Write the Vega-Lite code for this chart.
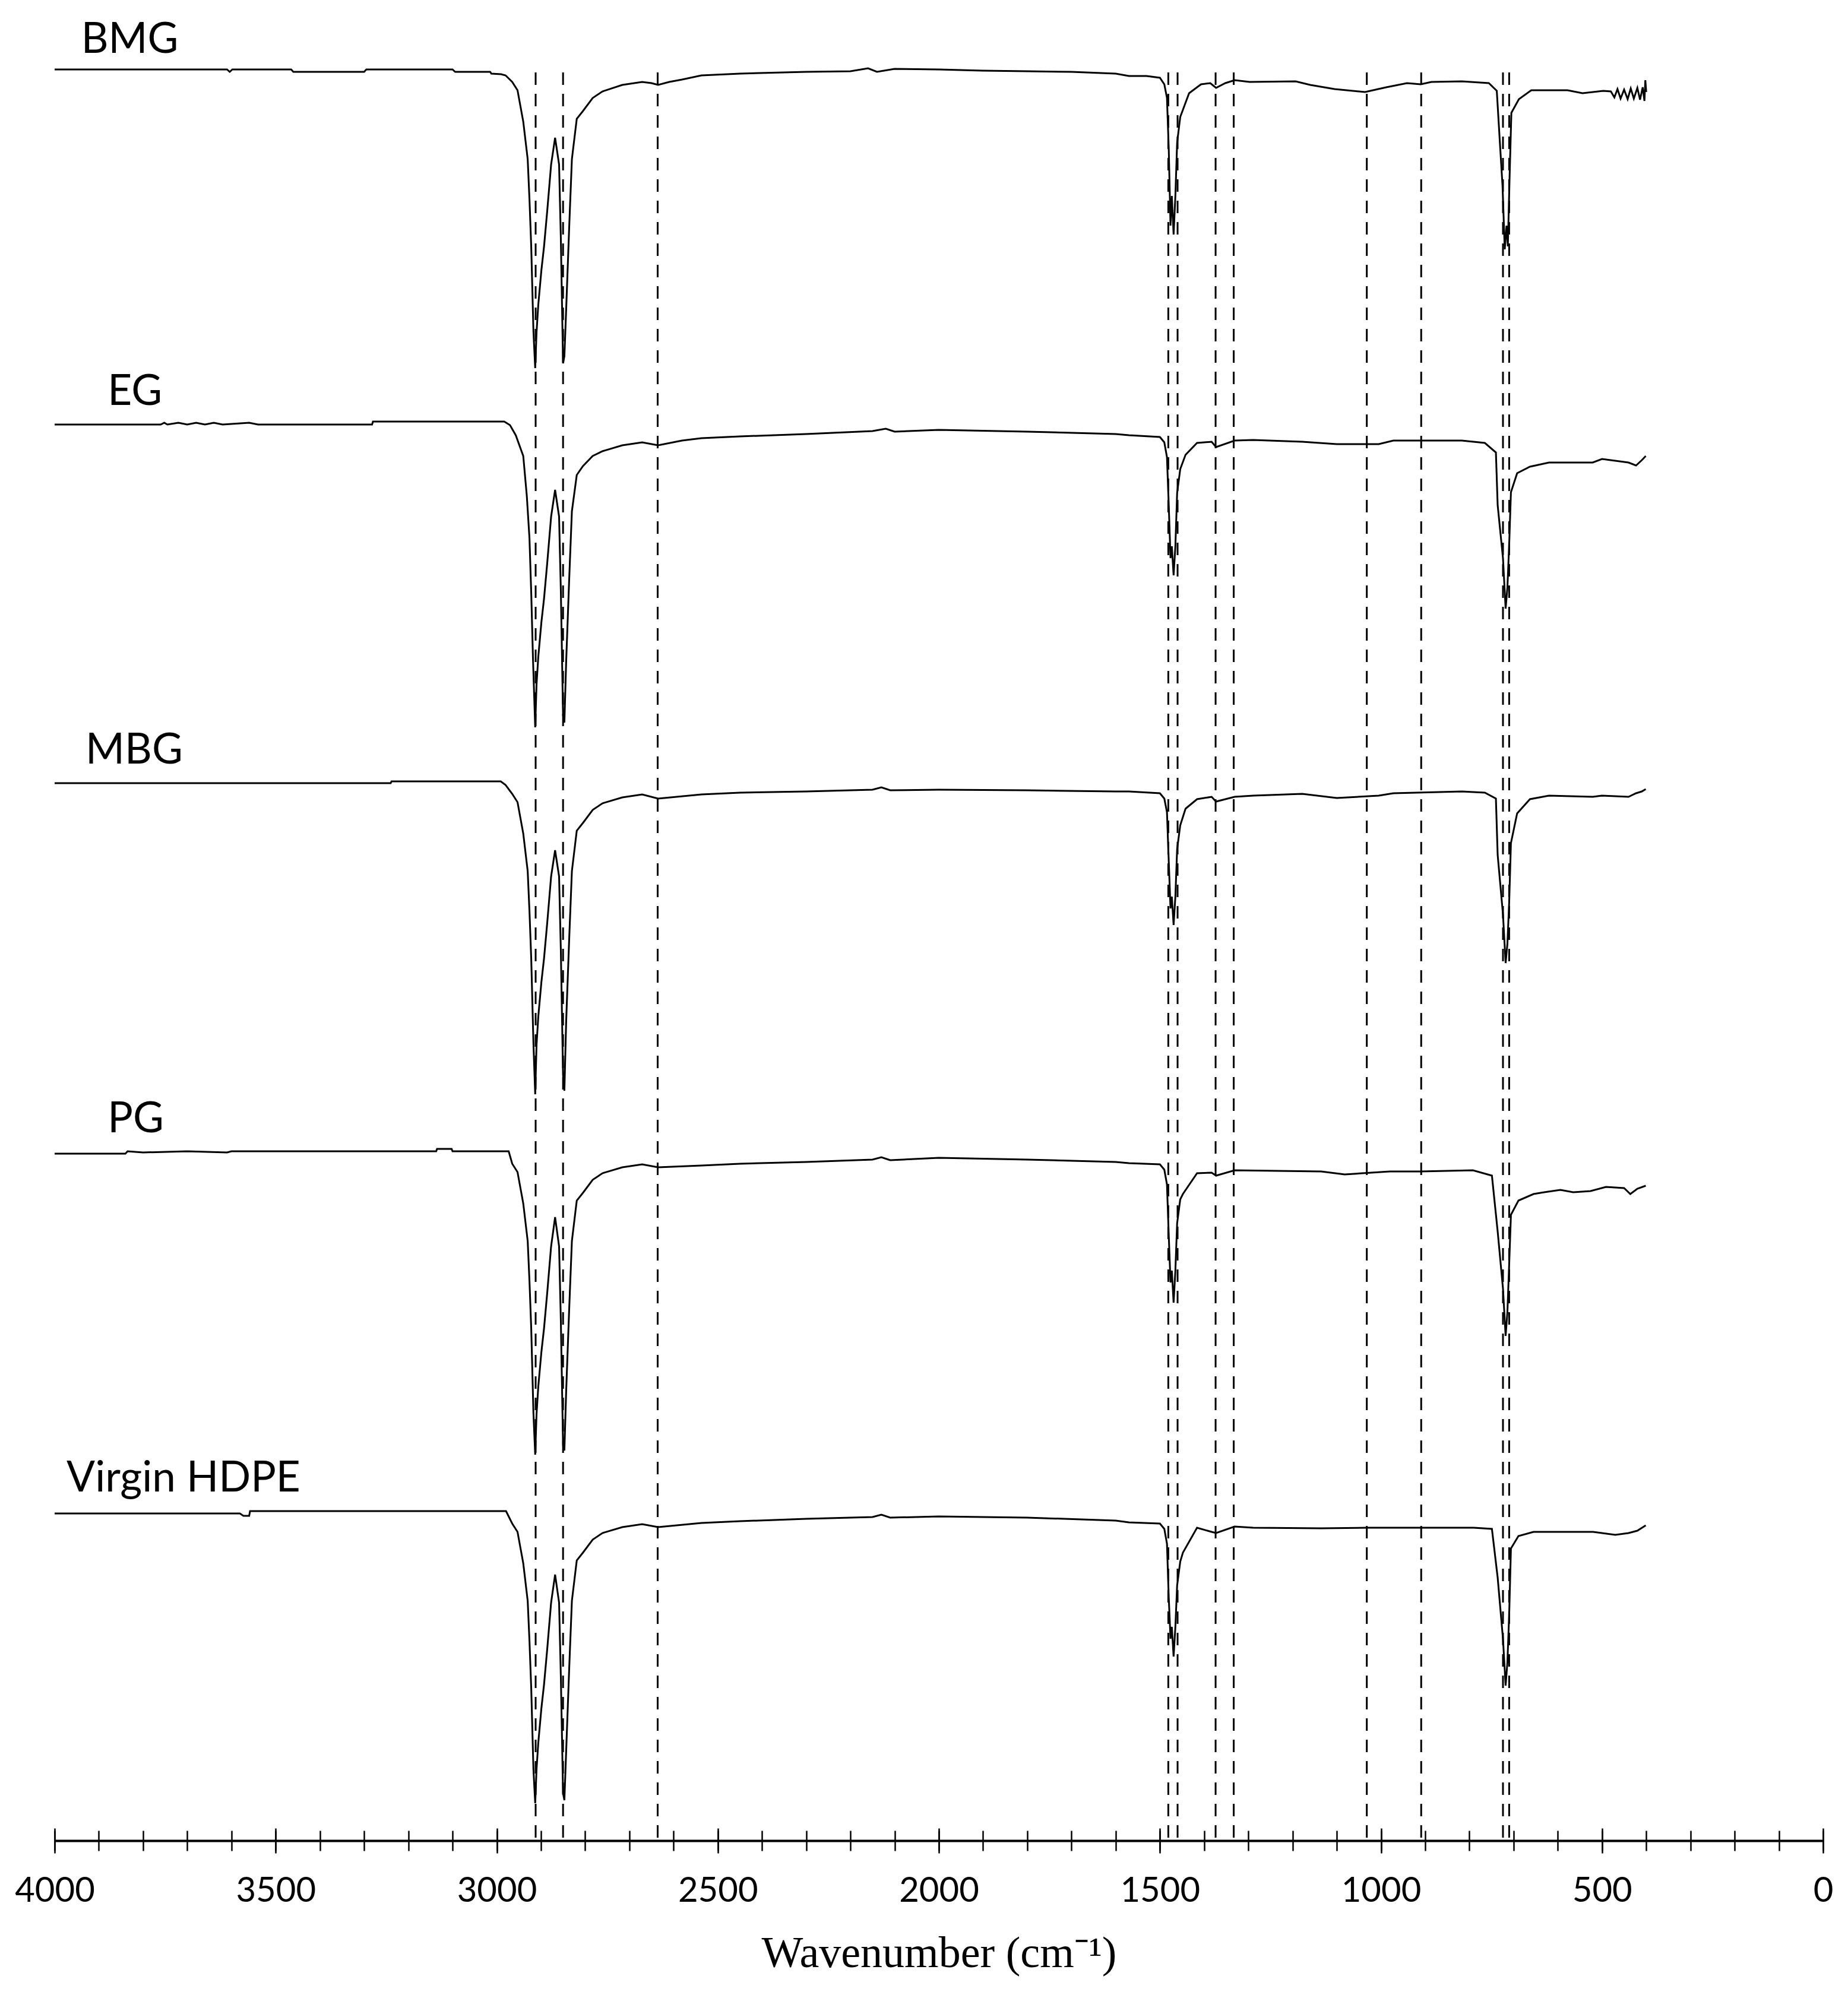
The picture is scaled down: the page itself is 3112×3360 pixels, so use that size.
{
"$schema":"https://vega.github.io/schema/vega-lite/v6.json",
"width":2978,"height":3100,
"autosize":{"type":"none"},
"padding":{"left":92,"right":42,"top":0,"bottom":260},
"background":"white",
"config":{"view":{"stroke":null}},
"datasets":{
"peaks":[{"wn":2912},{"wn":2850},{"wn":2636},{"wn":1481},{"wn":1460},{"wn":1374},{"wn":1333},{"wn":1032},{"wn":909},{"wn":724},{"wn":710}],
"labels":[{"label":"BMG","wn":3940,"t":301.1},{"label":"EG","wn":3880,"t":241.8},{"label":"MBG","wn":3930,"t":181.4},{"label":"PG","wn":3880,"t":119.3},{"label":"Virgin HDPE","wn":3973,"t":58.8}],
"spectra":[
{"s":"BMG","wn":4000,"t":298.3},{"s":"BMG","wn":3800,"t":298.3},{"s":"BMG","wn":3610,"t":298.3},{"s":"BMG","wn":3604,"t":297.9},{"s":"BMG","wn":3598,"t":298.3},{"s":"BMG","wn":3465,"t":298.3},{"s":"BMG","wn":3460,"t":297.9},{"s":"BMG","wn":3300,"t":297.9},{"s":"BMG","wn":3295,"t":298.3},{"s":"BMG","wn":3100,"t":298.3},{"s":"BMG","wn":3094,"t":297.9},{"s":"BMG","wn":3015,"t":297.9},{"s":"BMG","wn":3012,"t":297.6},{"s":"BMG","wn":2990,"t":297.5},{"s":"BMG","wn":2980,"t":297.3},{"s":"BMG","wn":2965,"t":296.2},{"s":"BMG","wn":2953,"t":294.8},{"s":"BMG","wn":2940,"t":289.5},{"s":"BMG","wn":2930,"t":283.2},{"s":"BMG","wn":2926,"t":276.5},{"s":"BMG","wn":2922,"t":268.5},{"s":"BMG","wn":2917,"t":254.2},{"s":"BMG","wn":2913,"t":248.0},{"s":"BMG","wn":2910,"t":254.0},{"s":"BMG","wn":2906,"t":258.7},{"s":"BMG","wn":2899,"t":264.5},{"s":"BMG","wn":2893,"t":268.5},{"s":"BMG","wn":2886,"t":274.3},{"s":"BMG","wn":2877,"t":282.3},{"s":"BMG","wn":2868,"t":286.8},{"s":"BMG","wn":2859,"t":282.3},{"s":"BMG","wn":2855,"t":269.8},{"s":"BMG","wn":2850,"t":248.8},{"s":"BMG","wn":2847,"t":250.0},{"s":"BMG","wn":2843,"t":257.8},{"s":"BMG","wn":2836,"t":272.0},{"s":"BMG","wn":2830,"t":283.2},{"s":"BMG","wn":2819,"t":290.0},{"s":"BMG","wn":2805,"t":291.3},{"s":"BMG","wn":2783,"t":293.5},{"s":"BMG","wn":2761,"t":294.6},{"s":"BMG","wn":2716,"t":295.7},{"s":"BMG","wn":2671,"t":296.2},{"s":"BMG","wn":2650,"t":296.0},{"s":"BMG","wn":2635,"t":295.7},{"s":"BMG","wn":2610,"t":296.2},{"s":"BMG","wn":2581,"t":296.6},{"s":"BMG","wn":2537,"t":297.3},{"s":"BMG","wn":2450,"t":297.6},{"s":"BMG","wn":2300,"t":297.9},{"s":"BMG","wn":2200,"t":298.0},{"s":"BMG","wn":2160,"t":298.5},{"s":"BMG","wn":2140,"t":297.9},{"s":"BMG","wn":2100,"t":298.4},{"s":"BMG","wn":2000,"t":298.3},{"s":"BMG","wn":1900,"t":298.1},{"s":"BMG","wn":1800,"t":298.0},{"s":"BMG","wn":1700,"t":297.9},{"s":"BMG","wn":1600,"t":297.6},{"s":"BMG","wn":1570,"t":297.2},{"s":"BMG","wn":1530,"t":297.2},{"s":"BMG","wn":1500,"t":296.9},{"s":"BMG","wn":1490,"t":295.8},{"s":"BMG","wn":1484,"t":293.5},{"s":"BMG","wn":1480,"t":285.0},{"s":"BMG","wn":1476,"t":272.0},{"s":"BMG","wn":1473,"t":277.0},{"s":"BMG","wn":1469,"t":270.5},{"s":"BMG","wn":1465,"t":277.0},{"s":"BMG","wn":1461,"t":286.0},{"s":"BMG","wn":1454,"t":290.3},{"s":"BMG","wn":1434,"t":294.3},{"s":"BMG","wn":1407,"t":295.8},{"s":"BMG","wn":1386,"t":296.0},{"s":"BMG","wn":1373,"t":295.2},{"s":"BMG","wn":1352,"t":296.0},{"s":"BMG","wn":1331,"t":296.5},{"s":"BMG","wn":1297,"t":296.2},{"s":"BMG","wn":1193,"t":296.3},{"s":"BMG","wn":1160,"t":295.7},{"s":"BMG","wn":1105,"t":295.0},{"s":"BMG","wn":1036,"t":294.5},{"s":"BMG","wn":988,"t":295.3},{"s":"BMG","wn":941,"t":296.0},{"s":"BMG","wn":910,"t":295.8},{"s":"BMG","wn":886,"t":296.2},{"s":"BMG","wn":817,"t":296.3},{"s":"BMG","wn":756,"t":296.0},{"s":"BMG","wn":738,"t":294.7},{"s":"BMG","wn":731,"t":286.0},{"s":"BMG","wn":725,"t":278.7},{"s":"BMG","wn":720,"t":268.0},{"s":"BMG","wn":716,"t":272.0},{"s":"BMG","wn":713,"t":268.5},{"s":"BMG","wn":709,"t":280.3},{"s":"BMG","wn":705,"t":291.0},{"s":"BMG","wn":688,"t":293.3},{"s":"BMG","wn":660,"t":294.8},{"s":"BMG","wn":578,"t":294.8},{"s":"BMG","wn":544,"t":294.3},{"s":"BMG","wn":497,"t":294.7},{"s":"BMG","wn":480,"t":294.6},{"s":"BMG","wn":472,"t":293.6},{"s":"BMG","wn":465,"t":295.0},{"s":"BMG","wn":458,"t":293.4},{"s":"BMG","wn":450,"t":294.9},{"s":"BMG","wn":442,"t":293.3},{"s":"BMG","wn":435,"t":295.1},{"s":"BMG","wn":428,"t":293.4},{"s":"BMG","wn":420,"t":295.2},{"s":"BMG","wn":414,"t":293.2},{"s":"BMG","wn":408,"t":295.3},{"s":"BMG","wn":404,"t":293.0},{"s":"BMG","wn":402,"t":296.5},{"s":"BMG","wn":400,"t":294.5},
{"s":"EG","wn":4000,"t":238.5},{"s":"EG","wn":3760,"t":238.5},{"s":"EG","wn":3752,"t":238.8},{"s":"EG","wn":3745,"t":238.5},{"s":"EG","wn":3720,"t":238.8},{"s":"EG","wn":3700,"t":238.5},{"s":"EG","wn":3680,"t":238.8},{"s":"EG","wn":3660,"t":238.5},{"s":"EG","wn":3640,"t":238.8},{"s":"EG","wn":3620,"t":238.5},{"s":"EG","wn":3560,"t":238.8},{"s":"EG","wn":3540,"t":238.5},{"s":"EG","wn":3282,"t":238.5},{"s":"EG","wn":3280,"t":239.0},{"s":"EG","wn":2983,"t":239.0},{"s":"EG","wn":2970,"t":238.4},{"s":"EG","wn":2957,"t":236.7},{"s":"EG","wn":2940,"t":233.2},{"s":"EG","wn":2932,"t":226.5},{"s":"EG","wn":2926,"t":219.4},{"s":"EG","wn":2922,"t":210.2},{"s":"EG","wn":2918,"t":199.0},{"s":"EG","wn":2913,"t":187.5},{"s":"EG","wn":2910,"t":194.7},{"s":"EG","wn":2906,"t":199.4},{"s":"EG","wn":2899,"t":205.2},{"s":"EG","wn":2893,"t":209.2},{"s":"EG","wn":2886,"t":215.0},{"s":"EG","wn":2877,"t":223.0},{"s":"EG","wn":2868,"t":227.5},{"s":"EG","wn":2859,"t":223.0},{"s":"EG","wn":2855,"t":210.5},{"s":"EG","wn":2850,"t":189.5},{"s":"EG","wn":2847,"t":188.3},{"s":"EG","wn":2843,"t":198.5},{"s":"EG","wn":2836,"t":212.7},{"s":"EG","wn":2830,"t":223.9},{"s":"EG","wn":2819,"t":230.0},{"s":"EG","wn":2805,"t":231.5},{"s":"EG","wn":2783,"t":233.2},{"s":"EG","wn":2761,"t":234.0},{"s":"EG","wn":2716,"t":235.0},{"s":"EG","wn":2671,"t":235.5},{"s":"EG","wn":2635,"t":235.0},{"s":"EG","wn":2581,"t":235.8},{"s":"EG","wn":2537,"t":236.2},{"s":"EG","wn":2450,"t":236.5},{"s":"EG","wn":2300,"t":236.9},{"s":"EG","wn":2150,"t":237.4},{"s":"EG","wn":2120,"t":237.8},{"s":"EG","wn":2100,"t":237.3},{"s":"EG","wn":2000,"t":237.6},{"s":"EG","wn":1800,"t":237.3},{"s":"EG","wn":1600,"t":236.9},{"s":"EG","wn":1570,"t":236.7},{"s":"EG","wn":1500,"t":236.4},{"s":"EG","wn":1490,"t":235.5},{"s":"EG","wn":1484,"t":233.0},{"s":"EG","wn":1480,"t":225.0},{"s":"EG","wn":1476,"t":216.0},{"s":"EG","wn":1473,"t":218.0},{"s":"EG","wn":1469,"t":213.1},{"s":"EG","wn":1465,"t":218.0},{"s":"EG","wn":1461,"t":227.0},{"s":"EG","wn":1454,"t":231.0},{"s":"EG","wn":1442,"t":233.4},{"s":"EG","wn":1416,"t":235.4},{"s":"EG","wn":1383,"t":235.6},{"s":"EG","wn":1373,"t":234.7},{"s":"EG","wn":1331,"t":235.8},{"s":"EG","wn":1289,"t":235.9},{"s":"EG","wn":1178,"t":235.6},{"s":"EG","wn":1100,"t":235.2},{"s":"EG","wn":1005,"t":235.2},{"s":"EG","wn":972,"t":235.8},{"s":"EG","wn":817,"t":235.8},{"s":"EG","wn":765,"t":235.4},{"s":"EG","wn":740,"t":233.8},{"s":"EG","wn":736,"t":224.9},{"s":"EG","wn":724,"t":216.0},{"s":"EG","wn":718,"t":207.5},{"s":"EG","wn":714,"t":211.0},{"s":"EG","wn":710,"t":218.2},{"s":"EG","wn":706,"t":227.1},{"s":"EG","wn":692,"t":230.3},{"s":"EG","wn":663,"t":231.4},{"s":"EG","wn":620,"t":232.1},{"s":"EG","wn":521,"t":232.1},{"s":"EG","wn":500,"t":232.7},{"s":"EG","wn":440,"t":232.1},{"s":"EG","wn":423,"t":231.6},{"s":"EG","wn":410,"t":232.5},{"s":"EG","wn":401,"t":233.2},
{"s":"MBG","wn":4000,"t":178.1},{"s":"MBG","wn":3240,"t":178.1},{"s":"MBG","wn":3238,"t":178.4},{"s":"MBG","wn":2991,"t":178.4},{"s":"MBG","wn":2980,"t":177.8},{"s":"MBG","wn":2965,"t":176.3},{"s":"MBG","wn":2953,"t":174.9},{"s":"MBG","wn":2940,"t":169.6},{"s":"MBG","wn":2930,"t":163.3},{"s":"MBG","wn":2926,"t":156.6},{"s":"MBG","wn":2922,"t":148.6},{"s":"MBG","wn":2917,"t":134.3},{"s":"MBG","wn":2913,"t":125.7},{"s":"MBG","wn":2910,"t":134.0},{"s":"MBG","wn":2906,"t":138.8},{"s":"MBG","wn":2899,"t":144.6},{"s":"MBG","wn":2893,"t":148.6},{"s":"MBG","wn":2886,"t":154.4},{"s":"MBG","wn":2877,"t":162.4},{"s":"MBG","wn":2868,"t":166.8},{"s":"MBG","wn":2859,"t":162.4},{"s":"MBG","wn":2855,"t":149.9},{"s":"MBG","wn":2850,"t":128.9},{"s":"MBG","wn":2847,"t":126.3},{"s":"MBG","wn":2843,"t":137.9},{"s":"MBG","wn":2836,"t":152.1},{"s":"MBG","wn":2830,"t":163.3},{"s":"MBG","wn":2819,"t":170.1},{"s":"MBG","wn":2805,"t":171.4},{"s":"MBG","wn":2783,"t":173.6},{"s":"MBG","wn":2761,"t":174.7},{"s":"MBG","wn":2716,"t":175.7},{"s":"MBG","wn":2671,"t":176.2},{"s":"MBG","wn":2635,"t":175.5},{"s":"MBG","wn":2537,"t":176.2},{"s":"MBG","wn":2450,"t":176.5},{"s":"MBG","wn":2300,"t":176.7},{"s":"MBG","wn":2150,"t":177.0},{"s":"MBG","wn":2130,"t":177.4},{"s":"MBG","wn":2110,"t":176.9},{"s":"MBG","wn":2000,"t":177.0},{"s":"MBG","wn":1800,"t":176.9},{"s":"MBG","wn":1600,"t":176.7},{"s":"MBG","wn":1570,"t":176.7},{"s":"MBG","wn":1500,"t":176.4},{"s":"MBG","wn":1490,"t":175.5},{"s":"MBG","wn":1484,"t":173.2},{"s":"MBG","wn":1480,"t":165.0},{"s":"MBG","wn":1476,"t":157.0},{"s":"MBG","wn":1473,"t":159.0},{"s":"MBG","wn":1469,"t":154.2},{"s":"MBG","wn":1465,"t":159.0},{"s":"MBG","wn":1461,"t":167.0},{"s":"MBG","wn":1454,"t":171.0},{"s":"MBG","wn":1442,"t":173.8},{"s":"MBG","wn":1416,"t":175.4},{"s":"MBG","wn":1383,"t":175.8},{"s":"MBG","wn":1373,"t":175.0},{"s":"MBG","wn":1331,"t":175.8},{"s":"MBG","wn":1289,"t":176.0},{"s":"MBG","wn":1178,"t":176.3},{"s":"MBG","wn":1100,"t":175.6},{"s":"MBG","wn":1005,"t":176.0},{"s":"MBG","wn":972,"t":176.4},{"s":"MBG","wn":817,"t":176.7},{"s":"MBG","wn":765,"t":176.5},{"s":"MBG","wn":740,"t":175.5},{"s":"MBG","wn":736,"t":166.0},{"s":"MBG","wn":724,"t":156.0},{"s":"MBG","wn":718,"t":147.8},{"s":"MBG","wn":714,"t":151.0},{"s":"MBG","wn":710,"t":158.0},{"s":"MBG","wn":706,"t":168.0},{"s":"MBG","wn":692,"t":173.0},{"s":"MBG","wn":663,"t":175.4},{"s":"MBG","wn":620,"t":176.0},{"s":"MBG","wn":521,"t":175.8},{"s":"MBG","wn":500,"t":176.0},{"s":"MBG","wn":440,"t":175.8},{"s":"MBG","wn":423,"t":176.4},{"s":"MBG","wn":410,"t":176.7},{"s":"MBG","wn":401,"t":177.1},
{"s":"PG","wn":4000,"t":115.7},{"s":"PG","wn":3900,"t":115.7},{"s":"PG","wn":3840,"t":115.7},{"s":"PG","wn":3835,"t":116.1},{"s":"PG","wn":3800,"t":115.9},{"s":"PG","wn":3700,"t":116.1},{"s":"PG","wn":3610,"t":115.9},{"s":"PG","wn":3600,"t":116.1},{"s":"PG","wn":3137,"t":116.1},{"s":"PG","wn":3135,"t":116.5},{"s":"PG","wn":3102,"t":116.5},{"s":"PG","wn":3100,"t":116.1},{"s":"PG","wn":2973,"t":116.1},{"s":"PG","wn":2965,"t":114.0},{"s":"PG","wn":2953,"t":112.6},{"s":"PG","wn":2940,"t":107.3},{"s":"PG","wn":2930,"t":101.0},{"s":"PG","wn":2926,"t":94.3},{"s":"PG","wn":2922,"t":86.3},{"s":"PG","wn":2917,"t":72.0},{"s":"PG","wn":2913,"t":65.0},{"s":"PG","wn":2910,"t":71.8},{"s":"PG","wn":2906,"t":76.5},{"s":"PG","wn":2899,"t":82.3},{"s":"PG","wn":2893,"t":86.3},{"s":"PG","wn":2886,"t":92.1},{"s":"PG","wn":2877,"t":100.1},{"s":"PG","wn":2868,"t":105.0},{"s":"PG","wn":2859,"t":100.1},{"s":"PG","wn":2855,"t":87.6},{"s":"PG","wn":2850,"t":66.6},{"s":"PG","wn":2847,"t":65.7},{"s":"PG","wn":2843,"t":75.6},{"s":"PG","wn":2836,"t":89.8},{"s":"PG","wn":2830,"t":101.0},{"s":"PG","wn":2819,"t":107.8},{"s":"PG","wn":2805,"t":109.1},{"s":"PG","wn":2783,"t":111.3},{"s":"PG","wn":2761,"t":112.4},{"s":"PG","wn":2716,"t":113.4},{"s":"PG","wn":2671,"t":113.9},{"s":"PG","wn":2635,"t":113.4},{"s":"PG","wn":2537,"t":113.7},{"s":"PG","wn":2450,"t":114.0},{"s":"PG","wn":2300,"t":114.3},{"s":"PG","wn":2150,"t":114.7},{"s":"PG","wn":2130,"t":115.1},{"s":"PG","wn":2110,"t":114.6},{"s":"PG","wn":2000,"t":115.0},{"s":"PG","wn":1800,"t":114.7},{"s":"PG","wn":1600,"t":114.3},{"s":"PG","wn":1570,"t":114.1},{"s":"PG","wn":1500,"t":113.9},{"s":"PG","wn":1490,"t":113.0},{"s":"PG","wn":1484,"t":110.5},{"s":"PG","wn":1480,"t":102.0},{"s":"PG","wn":1476,"t":94.0},{"s":"PG","wn":1473,"t":96.0},{"s":"PG","wn":1469,"t":90.6},{"s":"PG","wn":1465,"t":96.0},{"s":"PG","wn":1461,"t":104.0},{"s":"PG","wn":1454,"t":108.0},{"s":"PG","wn":1448,"t":108.9},{"s":"PG","wn":1416,"t":112.4},{"s":"PG","wn":1383,"t":112.5},{"s":"PG","wn":1373,"t":112.0},{"s":"PG","wn":1331,"t":112.9},{"s":"PG","wn":1135,"t":112.7},{"s":"PG","wn":1082,"t":112.2},{"s":"PG","wn":980,"t":112.7},{"s":"PG","wn":911,"t":112.7},{"s":"PG","wn":792,"t":112.9},{"s":"PG","wn":749,"t":112.0},{"s":"PG","wn":736,"t":102.6},{"s":"PG","wn":724,"t":93.0},{"s":"PG","wn":718,"t":85.0},{"s":"PG","wn":714,"t":89.0},{"s":"PG","wn":710,"t":97.0},{"s":"PG","wn":706,"t":105.4},{"s":"PG","wn":689,"t":107.8},{"s":"PG","wn":655,"t":108.9},{"s":"PG","wn":631,"t":109.2},{"s":"PG","wn":594,"t":109.6},{"s":"PG","wn":565,"t":109.2},{"s":"PG","wn":526,"t":109.4},{"s":"PG","wn":491,"t":110.1},{"s":"PG","wn":450,"t":109.9},{"s":"PG","wn":436,"t":108.9},{"s":"PG","wn":420,"t":109.8},{"s":"PG","wn":401,"t":110.3},
{"s":"Virgin HDPE","wn":4000,"t":55.1},{"s":"Virgin HDPE","wn":3581,"t":55.1},{"s":"Virgin HDPE","wn":3573,"t":54.7},{"s":"Virgin HDPE","wn":3560,"t":54.7},{"s":"Virgin HDPE","wn":3558,"t":55.5},{"s":"Virgin HDPE","wn":2979,"t":55.5},{"s":"Virgin HDPE","wn":2965,"t":53.4},{"s":"Virgin HDPE","wn":2953,"t":52.0},{"s":"Virgin HDPE","wn":2940,"t":46.7},{"s":"Virgin HDPE","wn":2930,"t":40.4},{"s":"Virgin HDPE","wn":2926,"t":33.7},{"s":"Virgin HDPE","wn":2922,"t":25.7},{"s":"Virgin HDPE","wn":2917,"t":12.0},{"s":"Virgin HDPE","wn":2913,"t":6.3},{"s":"Virgin HDPE","wn":2910,"t":12.0},{"s":"Virgin HDPE","wn":2906,"t":16.5},{"s":"Virgin HDPE","wn":2899,"t":22.3},{"s":"Virgin HDPE","wn":2893,"t":26.3},{"s":"Virgin HDPE","wn":2886,"t":32.1},{"s":"Virgin HDPE","wn":2877,"t":40.1},{"s":"Virgin HDPE","wn":2868,"t":44.8},{"s":"Virgin HDPE","wn":2859,"t":40.1},{"s":"Virgin HDPE","wn":2855,"t":27.6},{"s":"Virgin HDPE","wn":2850,"t":8.0},{"s":"Virgin HDPE","wn":2847,"t":6.8},{"s":"Virgin HDPE","wn":2843,"t":15.0},{"s":"Virgin HDPE","wn":2836,"t":29.2},{"s":"Virgin HDPE","wn":2830,"t":40.4},{"s":"Virgin HDPE","wn":2819,"t":47.2},{"s":"Virgin HDPE","wn":2805,"t":48.5},{"s":"Virgin HDPE","wn":2783,"t":50.7},{"s":"Virgin HDPE","wn":2761,"t":51.8},{"s":"Virgin HDPE","wn":2716,"t":52.8},{"s":"Virgin HDPE","wn":2671,"t":53.3},{"s":"Virgin HDPE","wn":2635,"t":52.8},{"s":"Virgin HDPE","wn":2537,"t":53.5},{"s":"Virgin HDPE","wn":2450,"t":53.8},{"s":"Virgin HDPE","wn":2300,"t":54.2},{"s":"Virgin HDPE","wn":2150,"t":54.5},{"s":"Virgin HDPE","wn":2130,"t":54.9},{"s":"Virgin HDPE","wn":2110,"t":54.4},{"s":"Virgin HDPE","wn":2000,"t":54.6},{"s":"Virgin HDPE","wn":1800,"t":54.4},{"s":"Virgin HDPE","wn":1600,"t":53.9},{"s":"Virgin HDPE","wn":1570,"t":53.6},{"s":"Virgin HDPE","wn":1500,"t":53.4},{"s":"Virgin HDPE","wn":1490,"t":52.5},{"s":"Virgin HDPE","wn":1484,"t":50.0},{"s":"Virgin HDPE","wn":1480,"t":41.0},{"s":"Virgin HDPE","wn":1476,"t":34.0},{"s":"Virgin HDPE","wn":1473,"t":36.0},{"s":"Virgin HDPE","wn":1469,"t":31.0},{"s":"Virgin HDPE","wn":1465,"t":36.0},{"s":"Virgin HDPE","wn":1461,"t":43.0},{"s":"Virgin HDPE","wn":1454,"t":47.0},{"s":"Virgin HDPE","wn":1448,"t":48.5},{"s":"Virgin HDPE","wn":1416,"t":52.7},{"s":"Virgin HDPE","wn":1383,"t":52.0},{"s":"Virgin HDPE","wn":1373,"t":51.8},{"s":"Virgin HDPE","wn":1331,"t":52.9},{"s":"Virgin HDPE","wn":1289,"t":52.7},{"s":"Virgin HDPE","wn":1135,"t":52.6},{"s":"Virgin HDPE","wn":1030,"t":52.7},{"s":"Virgin HDPE","wn":790,"t":52.7},{"s":"Virgin HDPE","wn":749,"t":52.5},{"s":"Virgin HDPE","wn":736,"t":44.3},{"s":"Virgin HDPE","wn":724,"t":34.0},{"s":"Virgin HDPE","wn":718,"t":26.1},{"s":"Virgin HDPE","wn":714,"t":30.0},{"s":"Virgin HDPE","wn":710,"t":38.0},{"s":"Virgin HDPE","wn":706,"t":49.2},{"s":"Virgin HDPE","wn":689,"t":51.3},{"s":"Virgin HDPE","wn":655,"t":52.0},{"s":"Virgin HDPE","wn":520,"t":52.0},{"s":"Virgin HDPE","wn":470,"t":51.5},{"s":"Virgin HDPE","wn":440,"t":51.8},{"s":"Virgin HDPE","wn":420,"t":52.2},{"s":"Virgin HDPE","wn":401,"t":53.1}
]},
"layer":[
{"data":{"name":"peaks"},
 "mark":{"type":"rule","color":"black","strokeWidth":3,"strokeDash":[21,15]},
 "encoding":{
  "x":{"field":"wn","type":"quantitative","scale":{"domain":[0,4000],"reverse":true,"nice":false,"zero":false},
   "axis":{"orient":"bottom","values":[0,500,1000,1500,2000,2500,3000,3500,4000],"format":"d","tickSize":42,"offset":-21,"domain":false,"grid":false,"ticks":true,"tickColor":"black","tickWidth":2.5,"labelFont":"Lato","labelFontSize":58,"labelColor":"black","labelPadding":35,"labelFlush":false,"labelOverlap":false,"title":"Wavenumber (cm⁻¹)","titleFont":"Liberation Serif","titleFontSize":74,"titleFontWeight":"normal","titleColor":"black","titlePadding":40}},
  "y":{"datum":297.8,"type":"quantitative","scale":{"domain":[0,310],"nice":false,"zero":false},"axis":null},
  "y2":{"datum":-1}
 }},
{"data":{"name":"spectra"},
 "mark":{"type":"line","color":"black","strokeWidth":3,"clip":false},
 "encoding":{
  "x":{"field":"wn","type":"quantitative","axis":{"orient":"bottom","values":[0,100,200,300,400,500,600,700,800,900,1000,1100,1200,1300,1400,1500,1600,1700,1800,1900,2000,2100,2200,2300,2400,2500,2600,2700,2800,2900,3000,3100,3200,3300,3400,3500,3600,3700,3800,3900,4000],"tickSize":34,"offset":-17,"domain":false,"grid":false,"labels":false,"title":null,"tickColor":"black","tickWidth":2.5}},
  "y":{"field":"t","type":"quantitative","axis":null},
  "detail":{"field":"s","type":"nominal"}
 }},
{"data":{"name":"labels"},
 "mark":{"type":"text","align":"left","baseline":"alphabetic","font":"Lato","fontSize":71,"color":"black"},
 "encoding":{
  "x":{"field":"wn","type":"quantitative","axis":{"orient":"bottom","ticks":false,"labels":false,"title":null,"grid":false,"domain":true,"domainColor":"black","domainWidth":4}},
  "y":{"field":"t","type":"quantitative","axis":null},
  "text":{"field":"label","type":"nominal"}
 }}
],
"resolve":{"axis":{"x":"independent"}}
}
